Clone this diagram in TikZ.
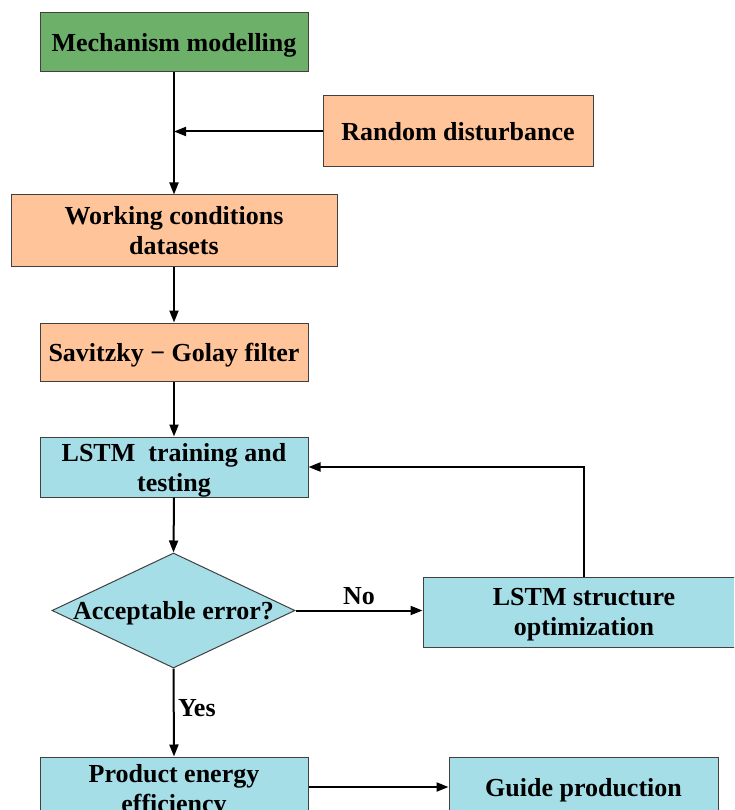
\documentclass[tikz,border=0pt]{standalone}
\usepackage{fontspec}
\setmainfont{Liberation Serif}
\usetikzlibrary{arrows.meta,shapes.geometric}
\definecolor{boxgreen}{RGB}{108,176,106}
\definecolor{boxorange}{RGB}{255,196,153}
\definecolor{boxblue}{RGB}{166,222,232}
\definecolor{boxline}{RGB}{64,64,64}
\tikzset{
  x=1pt, y=-1pt,
  txt/.style={font=\bfseries\fontsize{26}{30}\selectfont, align=center},
  box/.style={txt, rectangle, draw=boxline, line width=1pt, inner sep=0pt, text depth=0pt},
  conn/.style={draw=black, line width=2pt, -{Triangle[length=12pt,width=9pt]}},
}
\begin{document}
\begin{tikzpicture}
\useasboundingbox (0,0) rectangle (734,810);
\clip (0,0) rectangle (734,810);
\fill[white] (0,0) rectangle (734,810);
\node[box, fill=boxgreen, minimum width=268pt, minimum height=59pt] (mech) at (174,42.5) {Mechanism modelling};
\node[box, fill=boxorange, minimum width=270pt, minimum height=71pt] (rand) at (458,131.5) {Random disturbance};
\node[box, fill=boxorange, minimum width=326pt, minimum height=71pt] (work) at (174,230.5) {Working conditions\\datasets};
\node[box, fill=boxorange, minimum width=268pt, minimum height=58pt] (sg) at (174,352) {Savitzky − Golay filter};
\node[box, fill=boxblue, minimum width=268pt, minimum height=60pt] (lstm) at (174,467) {LSTM\ \ training and\\testing};
\node[diamond, draw=boxline, line width=1pt, fill=boxblue, inner sep=0pt, minimum width=243pt, minimum height=115pt,
      label={[txt, text depth=0pt]center:Acceptable error?}] (dec) at (173.5,610.5) {};
\node[box, fill=boxblue, minimum width=322pt, minimum height=70pt] (opt) at (584,612) {LSTM structure\\optimization};
\node[box, fill=boxblue, minimum width=268pt, minimum height=62pt] (prod) at (174,788) {Product energy\\efficiency};
\node[box, fill=boxblue, minimum width=269pt, minimum height=60pt] (guide) at (583.5,787) {Guide production};
\coordinate (join) at (174,131.5);
\draw[conn] (mech.south) -- (work.north);
\draw[conn] (rand.west) -- (join);
\draw[conn] (work.south) -- (sg.north);
\draw[conn] (sg.south) -- (lstm.north);
\draw[conn] (lstm.south) -- (dec.north);
\draw[conn] (dec.east) -- node[txt, above, pos=0.5, yshift=1pt] {No} (dec.east -| opt.west);
\draw[conn] (opt.north) |- (lstm.east);
\draw[conn] (dec.south) -- node[txt, right, pos=0.45] {Yes} (prod.north);
\draw[conn] (prod.east |- guide.west) -- (guide.west);
\end{tikzpicture}
\end{document}
